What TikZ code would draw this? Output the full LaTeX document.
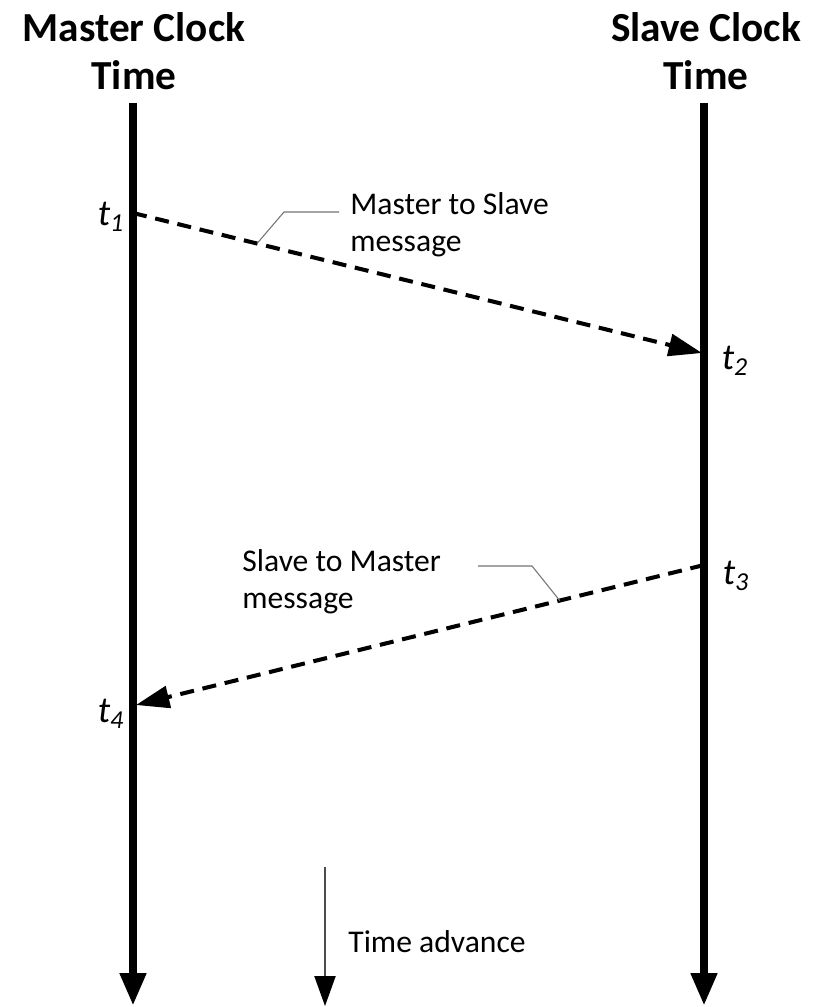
\documentclass[tikz,border=0pt]{standalone}
\usepackage{fontspec}
\setmainfont{Carlito}
\usetikzlibrary{arrows.meta, positioning}

\tikzset{
  clockline/.style={line width=4.8pt, -{Triangle[length=18.7pt,width=14pt]}},
  msgline/.style={line width=2.3pt, dash pattern=on 8pt off 5pt, -{Triangle[length=19pt,width=12.5pt]}},
  callout/.style={line width=0.6pt, black!55},
  header/.style={font=\fontsize{23.5}{27.6}\selectfont\bfseries, align=center, inner sep=0pt},
  note/.style={font=\fontsize{18}{21.2}\selectfont, align=left, inner sep=0pt},
  stamp/.style={font=\fontsize{21}{24}\selectfont\itshape, inner sep=0pt},
}

\begin{document}
\begin{tikzpicture}[x=0.02cm, y=-0.02cm]
    \useasboundingbox (0,0) rectangle (816,1007);

    % clock axes
    \coordinate (mtop) at (133,103);
    \coordinate (mbot) at (133,1006);
    \coordinate (stop) at (704,103);
    \coordinate (sbot) at (704,1006);
    \node[header, anchor=north] (mhead) at (134,12) {Master Clock\\Time};
    \node[header, anchor=north] (shead) at (706,12) {Slave Clock\\Time};
    \draw[clockline] (mtop) -- (mbot);
    \draw[clockline] (stop) -- (sbot);

    % messages
    \coordinate (m1) at (133,213);
    \coordinate (s1) at (702,353);
    \coordinate (s2) at (704,565);
    \coordinate (m2) at (136,705);
    \draw[msgline] (m1) -- (s1) coordinate[pos=0.218] (k1);
    \draw[msgline] (s2) -- (m2) coordinate[pos=0.254] (k2);

    \node[stamp] (t1) at (111,217) {t\textsubscript{1}};
    \node[stamp] (t2) at (735,361) {t\textsubscript{2}};
    \node[stamp] (t3) at (736,576) {t\textsubscript{3}};
    \node[stamp] (t4) at (111,714) {t\textsubscript{4}};

    % labels with callouts
    \node[note, anchor=north west] (lbl1) at (350,192) {Master to Slave\\message};
    \node[note, anchor=north west] (lbl2) at (242,549) {Slave to Master\\message};
    \coordinate (b1) at (284,212);
    \coordinate (e1) at (339,212);
    \coordinate (b2) at (532,566);
    \coordinate (e2) at (478,566);
    \draw[callout] (k1) -- (b1) -- (e1);
    \draw[callout] (k2) -- (b2) -- (e2);

    % time direction
    \coordinate (atop) at (325,867);
    \coordinate (abot) at (325,1006);
    \draw[line width=0.9pt, black!70, -{Triangle[length=17pt,width=12pt,color=black]}] (atop) -- (abot);
    \node[note, anchor=base west] (adv) at (348,952) {Time advance};
\end{tikzpicture}
\end{document}
